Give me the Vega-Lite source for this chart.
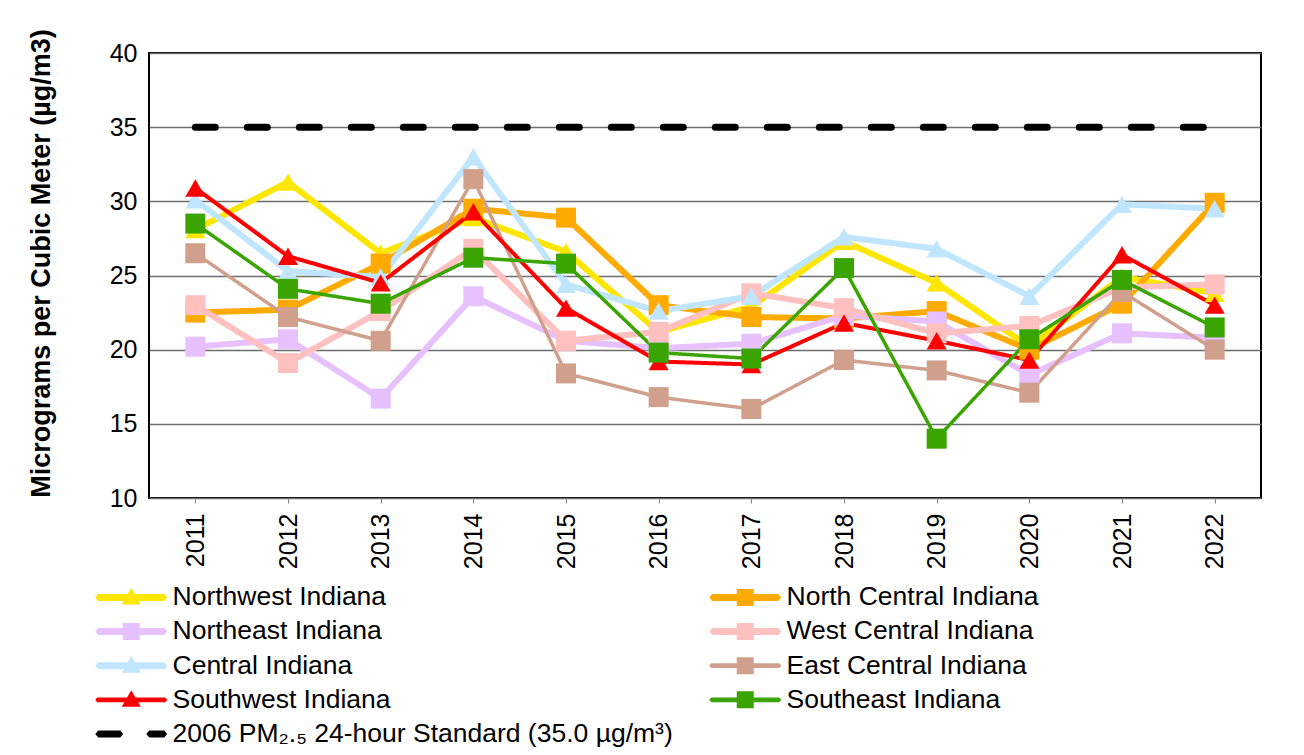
{
  "$schema": "https://vega.github.io/schema/vega-lite/v6.json",
  "width": 1112,
  "height": 445,
  "autosize": {"type": "none"},
  "padding": {"left": 149, "top": 53, "right": 43, "bottom": 257},
  "background": "white",
  "config": {
    "font": "Liberation Sans",
    "view": {"stroke": "black", "strokeWidth": 2},
    "axis": {"labelFont": "Liberation Sans", "titleFont": "Liberation Sans", "labelColor": "black", "titleColor": "black"}
  },
  "data": {"values": [
    {"year": 2011, "region": "Northwest Indiana", "value": 28.1},
    {"year": 2012, "region": "Northwest Indiana", "value": 31.3},
    {"year": 2013, "region": "Northwest Indiana", "value": 26.5},
    {"year": 2014, "region": "Northwest Indiana", "value": 28.9},
    {"year": 2015, "region": "Northwest Indiana", "value": 26.6},
    {"year": 2016, "region": "Northwest Indiana", "value": 21.2},
    {"year": 2017, "region": "Northwest Indiana", "value": 22.9},
    {"year": 2018, "region": "Northwest Indiana", "value": 27.3},
    {"year": 2019, "region": "Northwest Indiana", "value": 24.5},
    {"year": 2020, "region": "Northwest Indiana", "value": 20.2},
    {"year": 2021, "region": "Northwest Indiana", "value": 24.9},
    {"year": 2022, "region": "Northwest Indiana", "value": 23.8},
    {"year": 2011, "region": "North Central Indiana", "value": 22.5},
    {"year": 2012, "region": "North Central Indiana", "value": 22.7},
    {"year": 2013, "region": "North Central Indiana", "value": 25.8},
    {"year": 2014, "region": "North Central Indiana", "value": 29.5},
    {"year": 2015, "region": "North Central Indiana", "value": 28.9},
    {"year": 2016, "region": "North Central Indiana", "value": 23.0},
    {"year": 2017, "region": "North Central Indiana", "value": 22.2},
    {"year": 2018, "region": "North Central Indiana", "value": 22.1},
    {"year": 2019, "region": "North Central Indiana", "value": 22.6},
    {"year": 2020, "region": "North Central Indiana", "value": 20.0},
    {"year": 2021, "region": "North Central Indiana", "value": 23.1},
    {"year": 2022, "region": "North Central Indiana", "value": 29.9},
    {"year": 2011, "region": "Northeast Indiana", "value": 20.2},
    {"year": 2012, "region": "Northeast Indiana", "value": 20.7},
    {"year": 2013, "region": "Northeast Indiana", "value": 16.7},
    {"year": 2014, "region": "Northeast Indiana", "value": 23.6},
    {"year": 2015, "region": "Northeast Indiana", "value": 20.6},
    {"year": 2016, "region": "Northeast Indiana", "value": 20.1},
    {"year": 2017, "region": "Northeast Indiana", "value": 20.4},
    {"year": 2018, "region": "Northeast Indiana", "value": 22.3},
    {"year": 2019, "region": "Northeast Indiana", "value": 21.9},
    {"year": 2020, "region": "Northeast Indiana", "value": 18.3},
    {"year": 2021, "region": "Northeast Indiana", "value": 21.1},
    {"year": 2022, "region": "Northeast Indiana", "value": 20.8},
    {"year": 2011, "region": "West Central Indiana", "value": 23.0},
    {"year": 2012, "region": "West Central Indiana", "value": 19.1},
    {"year": 2013, "region": "West Central Indiana", "value": 22.6},
    {"year": 2014, "region": "West Central Indiana", "value": 26.8},
    {"year": 2015, "region": "West Central Indiana", "value": 20.6},
    {"year": 2016, "region": "West Central Indiana", "value": 21.2},
    {"year": 2017, "region": "West Central Indiana", "value": 23.8},
    {"year": 2018, "region": "West Central Indiana", "value": 22.8},
    {"year": 2019, "region": "West Central Indiana", "value": 21.1},
    {"year": 2020, "region": "West Central Indiana", "value": 21.6},
    {"year": 2021, "region": "West Central Indiana", "value": 24.2},
    {"year": 2022, "region": "West Central Indiana", "value": 24.4},
    {"year": 2011, "region": "Central Indiana", "value": 30.1},
    {"year": 2012, "region": "Central Indiana", "value": 25.3},
    {"year": 2013, "region": "Central Indiana", "value": 24.9},
    {"year": 2014, "region": "Central Indiana", "value": 33.0},
    {"year": 2015, "region": "Central Indiana", "value": 24.4},
    {"year": 2016, "region": "Central Indiana", "value": 22.6},
    {"year": 2017, "region": "Central Indiana", "value": 23.6},
    {"year": 2018, "region": "Central Indiana", "value": 27.6},
    {"year": 2019, "region": "Central Indiana", "value": 26.8},
    {"year": 2020, "region": "Central Indiana", "value": 23.6},
    {"year": 2021, "region": "Central Indiana", "value": 29.8},
    {"year": 2022, "region": "Central Indiana", "value": 29.5},
    {"year": 2011, "region": "East Central Indiana", "value": 26.5},
    {"year": 2012, "region": "East Central Indiana", "value": 22.2},
    {"year": 2013, "region": "East Central Indiana", "value": 20.6},
    {"year": 2014, "region": "East Central Indiana", "value": 31.5},
    {"year": 2015, "region": "East Central Indiana", "value": 18.4},
    {"year": 2016, "region": "East Central Indiana", "value": 16.8},
    {"year": 2017, "region": "East Central Indiana", "value": 16.0},
    {"year": 2018, "region": "East Central Indiana", "value": 19.3},
    {"year": 2019, "region": "East Central Indiana", "value": 18.6},
    {"year": 2020, "region": "East Central Indiana", "value": 17.1},
    {"year": 2021, "region": "East Central Indiana", "value": 23.9},
    {"year": 2022, "region": "East Central Indiana", "value": 20.0},
    {"year": 2011, "region": "Southwest Indiana", "value": 30.9},
    {"year": 2012, "region": "Southwest Indiana", "value": 26.3},
    {"year": 2013, "region": "Southwest Indiana", "value": 24.5},
    {"year": 2014, "region": "Southwest Indiana", "value": 29.3},
    {"year": 2015, "region": "Southwest Indiana", "value": 22.8},
    {"year": 2016, "region": "Southwest Indiana", "value": 19.2},
    {"year": 2017, "region": "Southwest Indiana", "value": 19.0},
    {"year": 2018, "region": "Southwest Indiana", "value": 21.8},
    {"year": 2019, "region": "Southwest Indiana", "value": 20.6},
    {"year": 2020, "region": "Southwest Indiana", "value": 19.3},
    {"year": 2021, "region": "Southwest Indiana", "value": 26.4},
    {"year": 2022, "region": "Southwest Indiana", "value": 23.0},
    {"year": 2011, "region": "Southeast Indiana", "value": 28.5},
    {"year": 2012, "region": "Southeast Indiana", "value": 24.1},
    {"year": 2013, "region": "Southeast Indiana", "value": 23.1},
    {"year": 2014, "region": "Southeast Indiana", "value": 26.2},
    {"year": 2015, "region": "Southeast Indiana", "value": 25.8},
    {"year": 2016, "region": "Southeast Indiana", "value": 19.8},
    {"year": 2017, "region": "Southeast Indiana", "value": 19.4},
    {"year": 2018, "region": "Southeast Indiana", "value": 25.5},
    {"year": 2019, "region": "Southeast Indiana", "value": 14.0},
    {"year": 2020, "region": "Southeast Indiana", "value": 20.7},
    {"year": 2021, "region": "Southeast Indiana", "value": 24.7},
    {"year": 2022, "region": "Southeast Indiana", "value": 21.5},
    {"year": 2011, "region": "2006 PM₂.₅ 24-hour Standard (35.0 µg/m³)", "value": 35.0},
    {"year": 2012, "region": "2006 PM₂.₅ 24-hour Standard (35.0 µg/m³)", "value": 35.0},
    {"year": 2013, "region": "2006 PM₂.₅ 24-hour Standard (35.0 µg/m³)", "value": 35.0},
    {"year": 2014, "region": "2006 PM₂.₅ 24-hour Standard (35.0 µg/m³)", "value": 35.0},
    {"year": 2015, "region": "2006 PM₂.₅ 24-hour Standard (35.0 µg/m³)", "value": 35.0},
    {"year": 2016, "region": "2006 PM₂.₅ 24-hour Standard (35.0 µg/m³)", "value": 35.0},
    {"year": 2017, "region": "2006 PM₂.₅ 24-hour Standard (35.0 µg/m³)", "value": 35.0},
    {"year": 2018, "region": "2006 PM₂.₅ 24-hour Standard (35.0 µg/m³)", "value": 35.0},
    {"year": 2019, "region": "2006 PM₂.₅ 24-hour Standard (35.0 µg/m³)", "value": 35.0},
    {"year": 2020, "region": "2006 PM₂.₅ 24-hour Standard (35.0 µg/m³)", "value": 35.0},
    {"year": 2021, "region": "2006 PM₂.₅ 24-hour Standard (35.0 µg/m³)", "value": 35.0},
    {"year": 2022, "region": "2006 PM₂.₅ 24-hour Standard (35.0 µg/m³)", "value": 35.0}
  ]},
  "encoding": {
    "x": {
      "field": "year", "type": "ordinal",
      "scale": {"type": "point", "padding": 0.5},
      "axis": {"title": null, "labelAngle": -90, "labelFontSize": 25, "labelPadding": 10, "tickSize": 5, "tickColor": "#888888", "domain": false, "grid": false}
    },
    "y": {
      "field": "value", "type": "quantitative",
      "scale": {"domain": [10, 40], "nice": false, "zero": false},
      "axis": {
        "title": "Micrograms per Cubic Meter (µg/m3)",
        "titleFontSize": 27, "titleFontWeight": "bold",
        "titleAngle": -90, "titleX": -100, "titleY": 210, "titleAlign": "center", "titleBaseline": "alphabetic",
        "values": [10, 15, 20, 25, 30, 35, 40],
        "labelFontSize": 25, "labelPadding": 12, "ticks": false, "domain": false,
        "grid": true, "gridColor": "#6e6e6e", "gridWidth": 1.3
      }
    },
    "color": {
      "field": "region", "type": "nominal",
      "scale": {
        "domain": ["Northwest Indiana", "North Central Indiana", "Northeast Indiana", "West Central Indiana", "Central Indiana", "East Central Indiana", "Southwest Indiana", "Southeast Indiana", "2006 PM₂.₅ 24-hour Standard (35.0 µg/m³)"],
        "range": ["#FFE600", "#FFAA00", "#E6C0FF", "#FFC0C0", "#C0E6FF", "#D0A08C", "#FF0000", "#3AA500", "#000000"]
      },
      "legend": {
        "title": null,
        "orient": "none",
        "direction": "horizontal",
        "legendX": -31,
        "legendY": 531,
        "columns": 2,
        "padding": 0,
        "labelFont": "Liberation Sans",
        "labelFontSize": 26.5,
        "labelColor": "black",
        "labelLimit": 800,
        "labelOffset": 28,
        "symbolSize": 400,
        "symbolStrokeWidth": 0,
        "rowPadding": 7.2,
        "columnPadding": 36,
        "encode": {
          "symbols": {
            "update": {
              "shape": {"signal": "datum.value === 'Northwest Indiana' || datum.value === 'Central Indiana' ? 'M-3.6,0 L-3.3,-0.35 H3.3 L3.6,0 L3.3,0.35 H-3.3 Z M0,-0.95 L0.95,0.7 L-0.95,0.7 Z' : datum.value === 'Southwest Indiana' ? 'M-3.6,0 L-3.4,-0.23 H3.4 L3.6,0 L3.4,0.23 H-3.4 Z M0,-0.95 L0.95,0.7 L-0.95,0.7 Z' : (datum.value === 'East Central Indiana' || datum.value === 'Southeast Indiana') ? 'M-3.6,0 L-3.4,-0.23 H3.4 L3.6,0 L3.4,0.23 H-3.4 Z M-0.85,-0.85 H0.85 V0.85 H-0.85 Z' : (indexof(datum.value, 'Standard') >= 0) ? 'M-3.6,0 L-3.3,-0.35 H-1.1 L-0.8,0 L-1.1,0.35 H-3.3 Z M1.5,0 L1.8,-0.35 H3.3 L3.6,0 L3.3,0.35 H1.8 Z' : 'M-3.6,0 L-3.3,-0.35 H3.3 L3.6,0 L3.3,0.35 H-3.3 Z M-0.85,-0.85 H0.85 V0.85 H-0.85 Z'"},
              "fill": {"scale": "color", "field": "value"},
              "stroke": {"value": "transparent"},
              "strokeWidth": {"value": 0},
              "opacity": {"value": 1}
            }
          }
        }
      }
    }
  },
  "layer": [
    {
      "mark": {"type": "line", "strokeCap": "round", "strokeJoin": "round"},
      "encoding": {
        "strokeWidth": {
          "condition": [
            {"test": "indexof(datum.region, 'Standard') >= 0", "value": 7},
            {"test": "datum.region === 'Southwest Indiana'", "value": 4},
            {"test": "datum.region === 'East Central Indiana' || datum.region === 'Southeast Indiana'", "value": 3.5}
          ],
          "value": 6
        },
        "strokeDash": {
          "condition": {"test": "indexof(datum.region, 'Standard') >= 0", "value": [20, 32]},
          "value": [1, 0]
        }
      }
    },
    {
      "transform": [{"filter": "indexof(datum.region, 'Standard') < 0"}],
      "mark": {"type": "point", "filled": true, "opacity": 1, "size": 400},
      "encoding": {
        "shape": {
          "field": "region", "type": "nominal",
          "scale": {
            "domain": ["Northwest Indiana", "North Central Indiana", "Northeast Indiana", "West Central Indiana", "Central Indiana", "East Central Indiana", "Southwest Indiana", "Southeast Indiana"],
            "range": ["triangle-up", "square", "square", "square", "triangle-up", "square", "triangle-up", "square"]
          },
          "legend": null
        }
      }
    }
  ]
}
